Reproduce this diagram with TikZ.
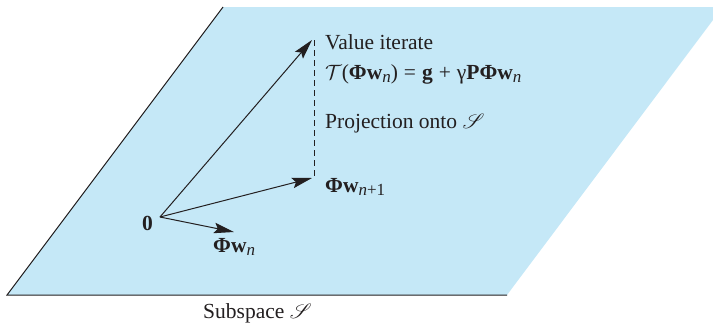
\documentclass[tikz,border=0pt]{standalone}
\usepackage{fontspec}
\setmainfont{Liberation Serif}
\usepackage{mathrsfs}
\usetikzlibrary{arrows.meta}
\definecolor{plane}{RGB}{197,232,247}
\definecolor{ink}{RGB}{35,31,32}
\newcommand\subn[1]{\raisebox{-3.5pt}{\fontsize{17}{17}\selectfont #1}}
\newcommand\opsp{\hspace{6pt}}
\begin{document}
\begin{tikzpicture}[x=1pt,y=-1pt,
  lbl/.style={inner sep=0pt,anchor=base west,text=ink,font=\fontsize{21.5}{24}\selectfont},
  vec/.style={draw=ink,line width=1pt,-{Stealth[length=20pt,width=10.5pt,inset=3.5pt]}},
  proj/.style={draw=ink,line width=1pt,dash pattern=on 6pt off 4pt}]
\useasboundingbox (0,0) rectangle (713,324);
% plane
\fill[plane] (7,295) -- (223,7) -- (713,7) -- (713,20) -- (507,295) -- cycle;
\draw[ink,line width=1pt] (223,7) -- (7,295) -- (507,295);
% points
\coordinate (O) at (160,217);
\coordinate (T) at (312,40);
\coordinate (N) at (312,178);
\coordinate (W) at (234,232);
\coordinate (Ptop) at (314,40);
\coordinate (Pbot) at (314,176);
\draw[proj] (Ptop) -- (Pbot);
\draw[vec] (O) -- (T);
\draw[vec] (O) -- (N);
\draw[vec] (O) -- (W);
% labels
\node[lbl] (l1) at (325,49) {Value iterate};
\node[lbl] (l2) at (325,79) {$\mathcal{T}$(\textbf{Φw}\subn{\textit{n}})\opsp=\opsp\textbf{g}\opsp+\opsp γ\textbf{PΦw}\subn{\textit{n}}};
\node[lbl] (l3) at (325,128) {Projection onto $\mathscr{S}$};
\node[lbl] (l4) at (325,192) {\textbf{Φw}\subn{\textit{n}+1}};
\node[lbl] (l5) at (213,252) {\textbf{Φw}\subn{\textit{n}}};
\node[lbl] (l0) at (142,230) {\textbf{0}};
\node[lbl] (ls) at (203,318) {Subspace $\mathscr{S}$};
\end{tikzpicture}
\end{document}
